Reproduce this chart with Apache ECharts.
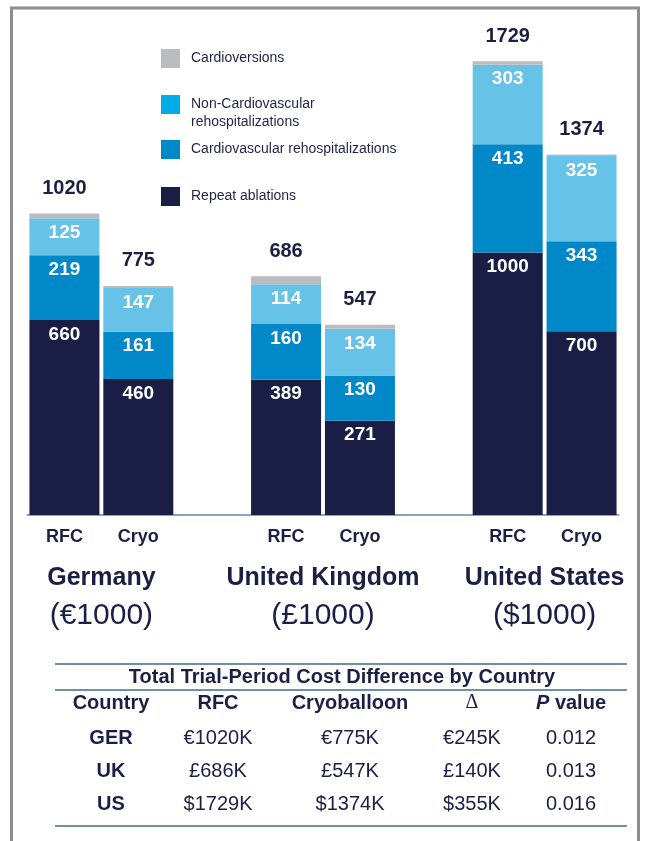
<!DOCTYPE html>
<html>
<head>
<meta charset="utf-8">
<script src="https://cdn.jsdelivr.net/npm/echarts@6/dist/echarts.min.js"></script>
<style>
  html, body { margin: 0; padding: 0; background: #fff; }
  #chart { width: 646px; height: 841px; }
</style>
</head>
<body>
<div id="chart"></div>
<script>
  // bar slots: RFC / Cryo for each country, an empty slot between countries
  var categories = ['RFC', 'Cryo', '', 'RFC', 'Cryo', '', 'RFC', 'Cryo'];
  var countries = ['Germany', 'United Kingdom', 'United States'];
  var currencies = ['(€1000)', '(£1000)', '($1000)'];
  var segmentNames = ['Repeat ablations', 'Cardiovascular rehospitalizations',
    'Non-Cardiovascular rehospitalizations', 'Cardioversions'];

  // per country: [RFC, Cryo]
  var repeatAblations = [[660, 460], [389, 271], [1000, 700]];
  var cvRehosp = [[219, 161], [160, 130], [413, 343]];
  var nonCvRehosp = [[125, 147], [114, 134], [303, 325]];
  var cardioversions = [[16, 7], [23, 12], [13, 6]];
  var totals = [[1020, 775], [686, 547], [1729, 1374]];

  // table below the chart
  var tableTitle = 'Total Trial-Period Cost Difference by Country';
  var tableHeader = ['Country', 'RFC', 'Cryoballoon', 'Δ', '{i|P} value'];
  var tableCountry = ['GER', 'UK', 'US'];
  var tableRfc = ['€1020K', '£686K', '$1729K'];
  var tableCryo = ['€775K', '£547K', '$1374K'];
  var tableDelta = ['€245K', '£140K', '$355K'];
  var tablePValue = ['0.012', '0.013', '0.016'];

  var navy = '#1b1f45';
  var font = '"Liberation Sans", Arial, sans-serif';
  var segData = [repeatAblations, cvRehosp, nonCvRehosp, cardioversions];
  var segColors = ['#1a1e45', '#0088c8', '#66c2e6', '#bbbcc0'];
  // each country is drawn on its own scale
  var yMax = [1641, 1394, 1848];

  var chart = echarts.init(document.getElementById('chart'));

  var series = [];
  countries.forEach(function (c, ci) {
    segData.forEach(function (arr, si) {
      var data = categories.map(function () { return '-'; });
      data[ci * 3] = arr[ci][0];
      data[ci * 3 + 1] = arr[ci][1];
      var label;
      if (si === 3) {
        label = {
          show: true, position: 'top', distance: 15,
          color: navy, fontWeight: 'bold', fontSize: 20, fontFamily: font,
          formatter: function (p) { return totals[ci][p.dataIndex - ci * 3]; }
        };
      } else {
        label = {
          show: true, position: 'insideTop', distance: 5,
          color: '#fff', fontWeight: 'bold', fontSize: 19, fontFamily: font
        };
      }
      series.push({
        name: segmentNames[si],
        type: 'bar',
        stack: 'c' + ci,
        yAxisIndex: ci,
        barWidth: 70,
        barGap: '-100%',
        data: data,
        itemStyle: { color: segColors[si] },
        label: label,
        emphasis: { disabled: true }
      });
    });
  });

  var legendBase = {
    left: 161, orient: 'vertical', padding: 0,
    itemWidth: 19, itemHeight: 19, icon: 'rect',
    textStyle: { color: '#1f2347', fontSize: 14, fontFamily: font, padding: [0, 0, 0, 6] }
  };

  var legends = [
    Object.assign({}, legendBase, { top: 49, data: [segmentNames[3]] }),
    Object.assign({}, legendBase, {
      top: 77.5,
      data: [{ name: segmentNames[2], itemStyle: { color: '#00ade6' } }],
      // blank first line so the first text line sits level with the swatch
      formatter: function () { return ' \nNon-Cardiovascular\nrehospitalizations'; },
      textStyle: { color: '#1f2347', fontSize: 14, fontFamily: font, lineHeight: 18, padding: [0, 0, 0, 6] }
    }),
    Object.assign({}, legendBase, { top: 140, data: [segmentNames[1]] }),
    Object.assign({}, legendBase, { top: 187, data: [segmentNames[0]] })
  ];

  // table graphics
  var colX = [111, 218, 350, 472, 571];
  var rowY = [738, 771, 804];
  var lineColor = '#6f8fab';
  var graphics = [
    { type: 'rect', shape: { x: 11.5, y: 8, width: 627, height: 900 },
      style: { fill: 'none', stroke: '#8e8e8e', lineWidth: 3 }, silent: true },
    { type: 'line', shape: { x1: 55, y1: 664, x2: 627, y2: 664 }, style: { stroke: lineColor, lineWidth: 2 } },
    { type: 'line', shape: { x1: 55, y1: 690, x2: 627, y2: 690 }, style: { stroke: lineColor, lineWidth: 2 } },
    { type: 'line', shape: { x1: 55, y1: 826, x2: 627, y2: 826 }, style: { stroke: lineColor, lineWidth: 2 } },
    { type: 'text', style: { text: tableTitle, x: 342, y: 677, align: 'center', verticalAlign: 'middle',
      fill: navy, font: 'bold 20px ' + font } }
  ];
  tableHeader.forEach(function (h, i) {
    graphics.push({
      type: 'text',
      style: {
        text: h, x: colX[i], y: 703, align: 'center', verticalAlign: 'middle', fill: navy,
        font: i === 3 ? '20px "Liberation Serif", serif' : 'bold 20px ' + font,
        rich: { i: { fontStyle: 'italic', fontWeight: 'bold', fontSize: 20, fontFamily: font, fill: navy } }
      }
    });
  });
  tableCountry.forEach(function (c, r) {
    var cells = [c, tableRfc[r], tableCryo[r], tableDelta[r], tablePValue[r]];
    cells.forEach(function (t, i) {
      graphics.push({
        type: 'text',
        style: {
          text: t, x: colX[i], y: rowY[r], align: 'center', verticalAlign: 'middle', fill: navy,
          font: (i === 0 ? 'bold ' : '') + '20px ' + font
        }
      });
    });
  });

  var option = {
    backgroundColor: '#fff',
    animation: false,
    legend: legends,
    grid: { left: 27.5, right: 27.5, top: 30, bottom: 326 },
    xAxis: [
      {
        type: 'category',
        data: categories,
        axisLine: { lineStyle: { color: '#8aa4bd', width: 2 } },
        axisTick: { show: false },
        axisLabel: { interval: 0, margin: 13, color: navy, fontWeight: 'bold', fontSize: 18, fontFamily: font }
      },
      {
        type: 'value',
        min: 0,
        max: 8,
        position: 'bottom',
        axisLine: { show: false },
        axisTick: { show: false },
        splitLine: { show: false },
        axisLabel: {
          customValues: [1, 4, 7],
          margin: 45,
          formatter: function (v) {
            var i = Math.round((v - 1) / 3);
            return '{n|' + countries[i] + '}\n{c|' + currencies[i] + '}';
          },
          rich: {
            n: { fontSize: 25, fontWeight: 'bold', color: navy, fontFamily: font, lineHeight: 37 },
            c: { fontSize: 30, color: navy, fontFamily: font, lineHeight: 37 }
          }
        }
      }
    ],
    yAxis: yMax.map(function (m) {
      return { type: 'value', min: 0, max: m, show: false };
    }),
    series: series,
    graphic: graphics
  };

  chart.setOption(option);
  window.addEventListener('resize', function () {
    chart.resize();
  });
</script>
</body>
</html>
